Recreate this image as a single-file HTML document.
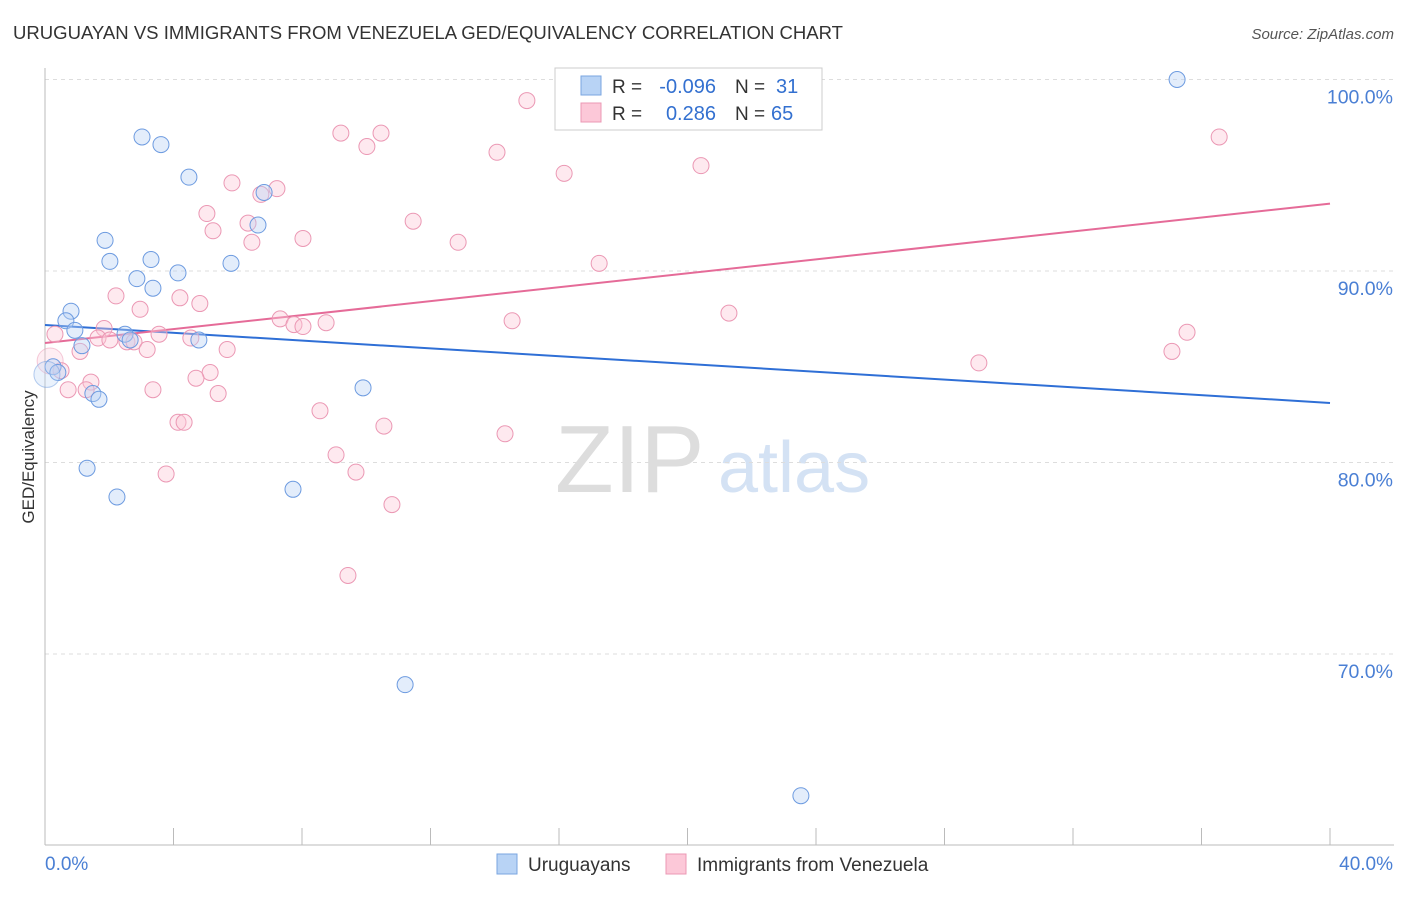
<!DOCTYPE html>
<html><head><meta charset="utf-8"><style>
body{margin:0;background:#fff;font-family:"Liberation Sans",sans-serif}
svg text{font-family:"Liberation Sans",sans-serif}
</style></head><body>
<svg id="chart" width="1406" height="892" xmlns="http://www.w3.org/2000/svg">
<text x="13" y="39" font-size="18.5" fill="#333" textLength="830" lengthAdjust="spacingAndGlyphs">URUGUAYAN VS IMMIGRANTS FROM VENEZUELA GED/EQUIVALENCY CORRELATION CHART</text>
<text x="1394" y="39" font-size="15" fill="#555" text-anchor="end" font-style="italic">Source: ZipAtlas.com</text>
<g>
<text x="555" y="492" font-size="96" fill="#ddd" font-family="Liberation Serif">ZIP</text>
<text x="718" y="492" font-size="72" fill="#d4e2f4">atlas</text>
</g>
<g id="grid"></g>
<g id="axes"></g>
<g id="lines"></g>
<g id="pts"></g>
<text transform="translate(34,457) rotate(-90)" font-size="17" fill="#333" text-anchor="middle">GED/Equivalency</text>
<g>
<rect x="555" y="68" width="267" height="62" fill="#fff" stroke="#ccc"/>
<rect x="581" y="76" width="20" height="19" fill="#b8d3f5" stroke="#7aa6e0"/>
<rect x="581" y="103" width="20" height="19" fill="#fcc8d8" stroke="#eb98b4"/>
<text x="612" y="93" font-size="19" fill="#333">R =</text>
<text x="716" y="93" font-size="20" fill="#3370d0" text-anchor="end">-0.096</text>
<text x="735" y="93" font-size="19" fill="#333">N =</text>
<text x="776" y="93" font-size="20" fill="#3370d0">31</text>
<text x="612" y="120" font-size="19" fill="#333">R =</text>
<text x="716" y="120" font-size="20" fill="#3370d0" text-anchor="end">0.286</text>
<text x="735" y="120" font-size="19" fill="#333">N =</text>
<text x="771" y="120" font-size="20" fill="#3370d0">65</text>
</g>
<g>
<rect x="497" y="854" width="20" height="20" fill="#b8d3f5" stroke="#7aa6e0"/>
<text x="528" y="871" font-size="19" fill="#333">Uruguayans</text>
<rect x="666" y="854" width="20" height="20" fill="#fcc8d8" stroke="#eb98b4"/>
<text x="697" y="871" font-size="19" fill="#333">Immigrants from Venezuela</text>
</g>
</svg>
<script>
const yTicks=[70,80,90,100];
const xTickLabels=["0.0%","40.0%"];
const blueX=[35.24,3.02,3.61,4.48,6.82,6.63,1.87,2.02,3.30,5.79,4.14,2.86,3.36,0.81,0.65,0.93,2.49,2.65,4.79,1.15,0.25,0.40,1.49,1.68,9.90,1.31,2.24,7.72,11.21,23.53,0.06];
const blueY=[100.0,97.0,96.6,94.9,94.1,92.4,91.6,90.5,90.6,90.4,89.9,89.6,89.1,87.9,87.4,86.9,86.7,86.4,86.4,86.1,85.0,84.7,83.6,83.3,83.9,79.7,78.2,78.6,68.4,62.6,84.6];
const pinkX=[22.82,15.0,36.55,9.21,10.46,10.02,14.07,16.16,20.42,5.82,7.22,6.72,5.04,6.32,11.46,5.23,8.03,6.44,12.86,17.25,2.21,4.20,4.82,2.96,21.29,7.32,7.75,8.03,8.75,14.54,1.84,3.55,1.65,2.02,2.55,2.77,4.54,3.18,5.67,1.09,35.55,35.08,29.07,0.31,0.50,5.14,4.70,1.43,1.28,0.72,3.36,5.39,8.56,4.14,4.33,10.55,14.32,9.06,9.68,3.77,10.80,9.43,0.16];
const pinkY=[100,98.9,97.0,97.2,97.2,96.5,96.2,95.1,95.5,94.6,94.3,94.0,93.0,92.5,92.6,92.1,91.7,91.5,91.5,90.4,88.7,88.6,88.3,88.0,87.8,87.5,87.2,87.1,87.3,87.4,87.0,86.7,86.5,86.4,86.3,86.3,86.5,85.9,85.9,85.8,86.8,85.8,85.2,86.7,84.8,84.7,84.4,84.2,83.8,83.8,83.8,83.6,82.7,82.1,82.1,81.9,81.5,80.4,79.5,79.4,77.8,74.1,85.3];
const blueTrend=[87.18,83.11];
const pinkTrend=[86.24,93.52];
const X=v=>45+v*32.125, Y=v=>79.5+(100-v)*19.15;
const NS="http://www.w3.org/2000/svg";
function mk(p,t,a){const e=document.createElementNS(NS,t);for(const k in a)e.setAttribute(k,a[k]);p.appendChild(e);return e;}
const g=document.getElementById('grid'),ax=document.getElementById('axes');
yTicks.forEach(t=>{
 const l=mk(g,'line',{x1:45,x2:1394,y1:Y(t),y2:Y(t),stroke:'#ddd','stroke-dasharray':'4,4'});
 
 
 const tx=mk(g,'text',{x:1393,y:Y(t)+24,'font-size':19.5,fill:'#4a7fd4','text-anchor':'end'});tx.textContent=t.toFixed(1)+'%';
 
 
});
mk(ax,'line',{x1:45,x2:45,y1:68,y2:845,stroke:'#bbb'});
mk(ax,'line',{x1:45,x2:1394,y1:845,y2:845,stroke:'#bbb'});
for(let i=1;i<=10;i++){mk(ax,'line',{x1:X(i*4),x2:X(i*4),y1:828,y2:845,stroke:'#bbb'});}
const t0=mk(ax,'text',{x:45,y:870,'font-size':19,fill:'#4a7fd4'});t0.textContent=xTickLabels[0];


const t1=mk(ax,'text',{x:1393,y:870,'font-size':19,fill:'#4a7fd4','text-anchor':'end'});t1.textContent=xTickLabels[1];


const pts=document.getElementById('pts');
function dots(xs,ys,fill,stroke,name){xs.forEach((x,i)=>{const big=i===xs.length-1;
 const c=mk(pts,'circle',{cx:X(x),cy:Y(ys[i]),r:big?13:8,fill:fill,'fill-opacity':big?0.3:0.4,stroke:stroke,'stroke-width':1,'stroke-opacity':big?0.5:1});
 
 });}
dots(pinkX,pinkY,'#fcc8d8','#eb98b4','venezuela-point');
dots(blueX,blueY,'#b8d3f5','#6d9be0','uruguayan-point');
const ln=document.getElementById('lines');
const bl=mk(ln,'line',{x1:X(0),y1:Y(blueTrend[0]),x2:X(40),y2:Y(blueTrend[1]),stroke:'#2f6fd6','stroke-width':2});


const pl=mk(ln,'line',{x1:X(0),y1:Y(pinkTrend[0]),x2:X(40),y2:Y(pinkTrend[1]),stroke:'#e56b98','stroke-width':2});


</script>
</body></html>
